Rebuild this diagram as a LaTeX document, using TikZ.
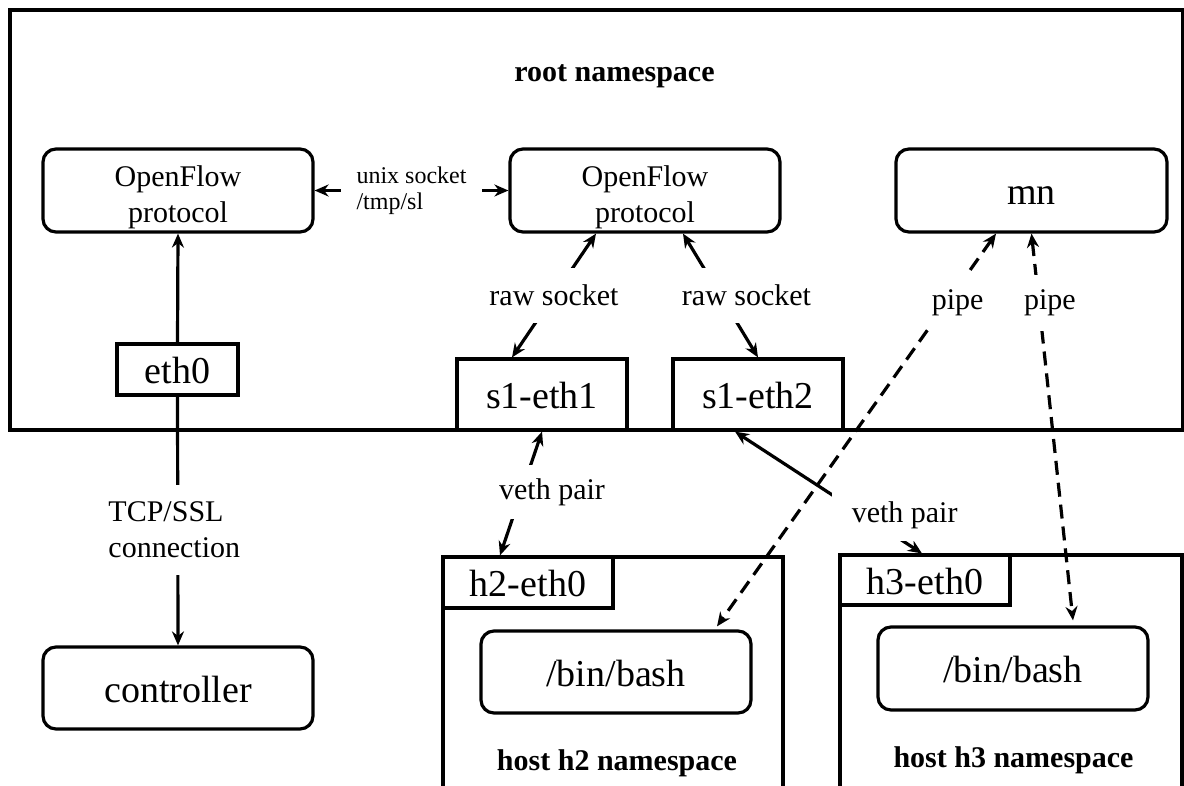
\documentclass[tikz,border=0pt]{standalone}
\usepackage{fontspec}
\setmainfont{Liberation Serif}
\usetikzlibrary{arrows.meta}

\newcommand\fbig{\fontsize{38}{44}\selectfont}
\newcommand\fmed{\fontsize{30}{36.5}\selectfont}
\newcommand\fsml{\fontsize{24}{26}\selectfont}

\begin{document}
\begin{tikzpicture}[x=1pt, y=-1pt,
  frame/.style={draw, line width=3.2pt, inner sep=0pt},
  port/.style={frame, font=\fbig, text height=28pt, text depth=0pt},
  proc/.style={port, rounded corners=13pt},
  procm/.style={frame, rounded corners=13pt, font=\fmed, align=center},
  lbl/.style={fill=white, font=\fmed, inner xsep=4pt},
  nslabel/.style={font=\fmed\bfseries, anchor=base},
  link/.style={line width=3.2pt},
  onehead/.style={link, -{Stealth[length=14pt,width=12pt]}},
  twohead/.style={link, {Stealth[length=14pt,width=12pt]}-{Stealth[length=14pt,width=12pt]}},
  pipelink/.style={twohead, dash pattern=on 14pt off 8pt}]

\useasboundingbox (0,0) rectangle (1184,785);
\clip (0,0) rectangle (1184,785);

% namespaces
\node[frame, minimum width=1173pt, minimum height=420pt] (root) at (596.5,220) {};
\node[frame, minimum width=340pt, minimum height=243pt] (h2ns) at (613,678.5) {};
\node[frame, minimum width=342pt, minimum height=245pt] (h3ns) at (1011,677.5) {};

\node[nslabel] (rootname) at (614.5,81.5) {root namespace};
\node[nslabel] (h2name) at (617,770.7) {host h2 namespace};
\node[nslabel] (h3name) at (1013.5,767) {host h3 namespace};

% processes and interfaces
\node[procm, minimum width=270pt, minimum height=83pt] (of1) at (178,190.5) {\rule{0pt}{34pt}OpenFlow\\protocol};
\node[procm, minimum width=270pt, minimum height=83pt] (of2) at (645,190.5) {\rule{0pt}{34pt}OpenFlow\\protocol};
\node[proc, minimum width=271pt, minimum height=83pt] (mn) at (1031.5,190.5) {mn};
\node[port, minimum width=121pt, minimum height=51pt] (eth0) at (177.5,369.5) {eth0};
\node[port, minimum width=170pt, minimum height=71pt] (s1e1) at (542,394.5) {s1-eth1};
\node[port, minimum width=170pt, minimum height=71pt] (s1e2) at (758,394.5) {s1-eth2};
\node[proc, minimum width=270pt, minimum height=82pt] (ctrl) at (178,688) {controller};
\node[port, minimum width=170pt, minimum height=51pt] (h2e) at (528,582.5) {h2-eth0};
\node[port, minimum width=170pt, minimum height=50pt] (h3e) at (925,580) {h3-eth0};
\node[proc, minimum width=270pt, minimum height=82pt] (bash2) at (616,672) {/bin/bash};
\node[proc, minimum width=270pt, minimum height=83pt] (bash3) at (1013,668.5) {/bin/bash};

% connections
\draw[onehead] (eth0.north) -- (of1.south);

\draw[twohead] (of1.east) -- (of2.west)
  node[midway, lbl, font=\fsml, align=left, inner xsep=16pt, inner ysep=2pt] (unix) {unix socket\\/tmp/sl};

\draw[twohead] ([xshift=-49pt]of2.south) -- ([xshift=-30pt]s1e1.north)
  node[midway, lbl, inner ysep=17pt] (raw1) {raw socket};

\draw[twohead] ([xshift=38pt]of2.south) -- (s1e2.north)
  node[midway, lbl, inner ysep=17pt, xshift=26pt] (raw2) {raw socket};

\draw[onehead] (eth0.south) -- (ctrl.north)
  node[pos=0.536, lbl, align=left, inner ysep=17pt, xshift=-3.5pt] (tcp) {TCP/SSL\\connection};

\draw[twohead] (s1e1.south) -- ([xshift=-28pt]h2e.north)
  node[pos=0.488, lbl, inner ysep=13.5pt, xshift=30.5pt] (veth1) {veth pair};

\draw[pipelink] ([xshift=-35.5pt]mn.south) -- ([xshift=101pt, yshift=3pt]bash2.north)
  node[pos=0.177, lbl, inner ysep=15pt, xshift=11pt] (pipe1) {pipe};

\draw[pipelink] (mn.south) -- ([xshift=60pt, yshift=5pt]bash3.north)
  node[pos=0.18, lbl, inner ysep=15pt, xshift=11pt] (pipe2) {pipe};

\draw[twohead] ([xshift=-23pt]s1e2.south) -- ([xshift=-3pt]h3e.north)
  node[pos=0.688, lbl, inner xsep=20pt, inner ysep=12pt, xshift=41pt] (veth2) {veth pair};

\end{tikzpicture}
\end{document}
